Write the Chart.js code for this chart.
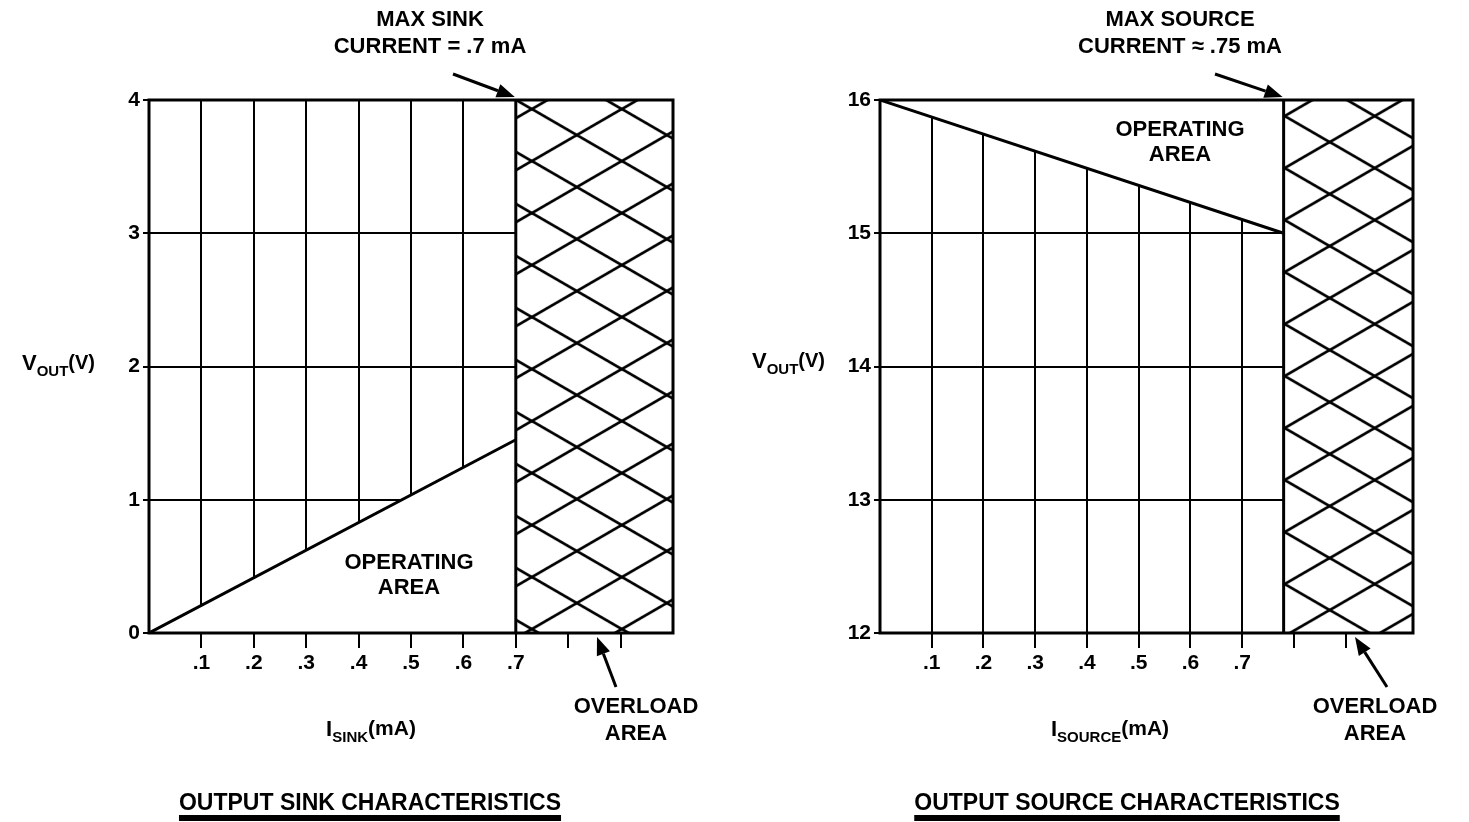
<!DOCTYPE html>
<html>
<head>
<meta charset="utf-8">
<script src="https://cdn.jsdelivr.net/npm/chart.js@4.4.1/dist/chart.umd.min.js"></script>
<style>
  body { margin: 0; background: #fff; }
  canvas { position: absolute; top: 0; }
  #sinkChart { left: 0; }
  #sourceChart { left: 735px; }
</style>
</head>
<body>
<canvas id="sinkChart" width="735" height="822"></canvas>
<canvas id="sourceChart" width="734" height="822"></canvas>
<script>
// ---- output sink characteristics ----
const sinkXTicks = [0.1, 0.2, 0.3, 0.4, 0.5, 0.6, 0.7, 0.8, 0.9];
const sinkXLabels = [".1", ".2", ".3", ".4", ".5", ".6", ".7", "", ""];
const sinkYTicks = [0, 1, 2, 3, 4];
const sinkYLabels = ["0", "1", "2", "3", "4"];
const sinkLimitI = [0, 0.7];      // mA
const sinkLimitV = [0, 1.45];     // V
const sinkMaxI = 0.7;
const sinkRangeI = [0, 1.0];
const sinkRangeV = [0, 4];

// ---- output source characteristics ----
const sourceXTicks = [0.1, 0.2, 0.3, 0.4, 0.5, 0.6, 0.7, 0.8, 0.9];
const sourceXLabels = [".1", ".2", ".3", ".4", ".5", ".6", ".7", "", ""];
const sourceYTicks = [12, 13, 14, 15, 16];
const sourceYLabels = ["12", "13", "14", "15", "16"];
const sourceLimitI = [0, 0.78];
const sourceLimitV = [16, 15];
const sourceMaxI = 0.78;
const sourceRangeI = [0, 1.03];
const sourceRangeV = [12, 16];

const FONT = '"Liberation Sans", Arial, Helvetica, sans-serif';

function points(xs, ys) {
  return xs.map((x, i) => ({ x: x, y: ys[i] }));
}

// crosshatch tile used for the overload area
function makeHatch(ctx) {
  const w = 90, h = 52;
  const tile = document.createElement("canvas");
  tile.width = w;
  tile.height = h;
  const t = tile.getContext("2d");
  t.fillStyle = "#fff";
  t.fillRect(0, 0, w, h);
  t.strokeStyle = "#000";
  t.lineWidth = 2.8;
  for (const dx of [-w, 0, w]) {
    for (const dy of [-h, 0, h]) {
      t.beginPath();
      t.moveTo(dx, dy);
      t.lineTo(dx + w, dy + h);
      t.moveTo(dx, dy + h);
      t.lineTo(dx + w, dy);
      t.stroke();
    }
  }
  return ctx.createPattern(tile, "repeat");
}

function arrow(ctx, x1, y1, x2, y2) {
  const a = Math.atan2(y2 - y1, x2 - x1);
  const len = 18, half = 7;
  const bx = x2 - len * Math.cos(a), by = y2 - len * Math.sin(a);
  ctx.save();
  ctx.strokeStyle = "#000";
  ctx.fillStyle = "#000";
  ctx.lineWidth = 3;
  ctx.beginPath();
  ctx.moveTo(x1, y1);
  ctx.lineTo(bx, by);
  ctx.stroke();
  ctx.beginPath();
  ctx.moveTo(x2, y2);
  ctx.lineTo(bx + half * Math.sin(a), by - half * Math.cos(a));
  ctx.lineTo(bx - half * Math.sin(a), by + half * Math.cos(a));
  ctx.closePath();
  ctx.fill();
  ctx.restore();
}

// text with subscripts: runs of [text, size, dy]
function runs(ctx, x, y, parts, center) {
  ctx.save();
  ctx.fillStyle = "#000";
  ctx.textBaseline = "alphabetic";
  let total = 0;
  parts.forEach(p => {
    ctx.font = "bold " + p[1] + "px " + FONT;
    total += ctx.measureText(p[0]).width;
  });
  let cx = center ? x - total / 2 : x;
  parts.forEach(p => {
    ctx.font = "bold " + p[1] + "px " + FONT;
    ctx.fillText(p[0], cx, y + p[2]);
    cx += ctx.measureText(p[0]).width;
  });
  ctx.restore();
}

function label(ctx, text, x, y, size) {
  ctx.save();
  ctx.fillStyle = "#000";
  ctx.font = "bold " + size + "px " + FONT;
  ctx.textAlign = "center";
  ctx.textBaseline = "middle";
  ctx.fillText(text, x, y);
  ctx.restore();
}

const decor = {
  id: "decor",
  beforeDatasetsDraw(chart, args, opts) {
    const x = chart.scales.x, area = chart.chartArea;
    const p = chart.canvas.$hatch;
    if (!p) return;
    p.setTransform(new DOMMatrix().translate(x.getPixelForValue(opts.hatchAt) + opts.hatchDx, area.top + opts.hatchDy));
  },
  afterDatasetsDraw(chart) {
    const ctx = chart.ctx, a = chart.chartArea;
    ctx.save();
    ctx.strokeStyle = "#000";
    ctx.lineWidth = 3;
    ctx.strokeRect(a.left, a.top, a.right - a.left, a.bottom - a.top);
    ctx.restore();
  },
  afterDraw(chart, args, opts) {
    const ctx = chart.ctx;
    const corner = chart.scales.x.getPixelForValue(opts.hatchAt);
    const n = opts.notes;
    label(ctx, n.max[0], n.maxX, 20, 22);
    label(ctx, n.max[1], n.maxX, 47, 22);
    arrow(ctx, n.maxArrowX, 74, corner - 1, chart.chartArea.top - 3);
    label(ctx, "OPERATING", n.opX, n.opY, 22);
    label(ctx, "AREA", n.opX, n.opY + 25, 22);
    label(ctx, "OVERLOAD", n.ovX, 707, 22);
    label(ctx, "AREA", n.ovX, 734, 22);
    arrow(ctx, n.ovArrow[0], 687, n.ovArrow[1], chart.chartArea.bottom + 4);
    runs(ctx, n.vX, n.vY + 8, [["V", 22, 0], ["OUT", 15, 6], ["(V)", 20, -1]], false);
    runs(ctx, n.iX, 736, n.iParts, true);
    label(ctx, n.title, n.titleX, 804, 23);
    ctx.font = "bold 23px " + FONT;
    const tw = ctx.measureText(n.title).width;
    ctx.fillStyle = "#000";
    ctx.fillRect(n.titleX - tw / 2, 815, tw, 6);
  }
};

function makeChart(id, d) {
  const canvas = document.getElementById(id);
  const ctx = canvas.getContext("2d");
  const hatch = makeHatch(ctx);
  canvas.$hatch = hatch;
  const tickFont = { family: FONT, size: 21, weight: "bold" };
  return new Chart(ctx, {
    type: "line",
    data: {
      datasets: [
        {
          data: d.limit,
          fill: d.opFill,
          backgroundColor: "#fff",
          borderColor: "#000",
          borderWidth: 3,
          pointRadius: 0,
          order: 2
        },
        {
          data: [{ x: d.maxI, y: d.rangeV[1] }, { x: d.rangeI[1], y: d.rangeV[1] }],
          fill: "start",
          backgroundColor: hatch,
          borderWidth: 0,
          pointRadius: 0,
          order: 3
        },
        {
          data: [{ x: d.maxI, y: d.rangeV[0] }, { x: d.maxI, y: d.rangeV[1] }],
          fill: false,
          borderColor: "#000",
          borderWidth: 3,
          pointRadius: 0,
          order: 1
        }
      ]
    },
    options: {
      responsive: false,
      animation: false,
      layout: { padding: d.padding },
      plugins: {
        legend: { display: false },
        tooltip: { enabled: false },
        decor: { hatchAt: d.maxI, hatchDx: d.hatchDx, hatchDy: d.hatchDy, notes: d.notes }
      },
      scales: {
        x: {
          type: "linear",
          min: d.rangeI[0],
          max: d.rangeI[1],
          afterBuildTicks: s => { s.ticks = d.xTicks.map(v => ({ value: v })); },
          afterFit: s => { s.height = 50; },
          ticks: {
            autoSkip: false,
            maxRotation: 0,
            padding: 3,
            color: "#000",
            font: tickFont,
            callback: (v, i) => d.xLabels[i]
          },
          grid: { color: "#000", lineWidth: 2, tickLength: 15 },
          border: { display: false }
        },
        y: {
          type: "linear",
          min: d.rangeV[0],
          max: d.rangeV[1],
          afterBuildTicks: s => { s.ticks = d.yTicks.map(v => ({ value: v })); },
          afterFit: s => { s.width = 44; },
          ticks: {
            padding: 3,
            color: "#000",
            font: tickFont,
            callback: (v, i) => d.yLabels[i]
          },
          grid: { color: "#000", lineWidth: 2, tickLength: 6 },
          border: { display: false }
        }
      }
    },
    plugins: [decor]
  });
}

makeChart("sinkChart", {
  limit: points(sinkLimitI, sinkLimitV),
  opFill: "start",
  maxI: sinkMaxI,
  rangeI: sinkRangeI,
  rangeV: sinkRangeV,
  xTicks: sinkXTicks,
  xLabels: sinkXLabels,
  yTicks: sinkYTicks,
  yLabels: sinkYLabels,
  padding: { left: 105, top: 100, right: 62, bottom: 139 },
  hatchDx: 16,
  hatchDy: 61,
  notes: {
    max: ["MAX SINK", "CURRENT = .7 mA"], maxX: 430, maxArrowX: 453,
    opX: 409, opY: 563,
    ovX: 636, ovArrow: [616, 597],
    vX: 22, vY: 362,
    iX: 371, iParts: [["I", 22, 0], ["SINK", 15, 6], ["(mA)", 21, -1]],
    title: "OUTPUT SINK CHARACTERISTICS", titleX: 370
  }
});

makeChart("sourceChart", {
  limit: points(sourceLimitI, sourceLimitV),
  opFill: "end",
  maxI: sourceMaxI,
  rangeI: sourceRangeI,
  rangeV: sourceRangeV,
  xTicks: sourceXTicks,
  xLabels: sourceXLabels,
  yTicks: sourceYTicks,
  yLabels: sourceYLabels,
  padding: { left: 101, top: 100, right: 56, bottom: 139 },
  hatchDx: 46,
  hatchDy: 42,
  notes: {
    max: ["MAX SOURCE", "CURRENT \u2248 .75 mA"], maxX: 445, maxArrowX: 480,
    opX: 445, opY: 130,
    ovX: 640, ovArrow: [652, 620],
    vX: 17, vY: 360,
    iX: 375, iParts: [["I", 22, 0], ["SOURCE", 15, 6], ["(mA)", 21, -1]],
    title: "OUTPUT SOURCE CHARACTERISTICS", titleX: 392
  }
});
</script>
</body>
</html>
